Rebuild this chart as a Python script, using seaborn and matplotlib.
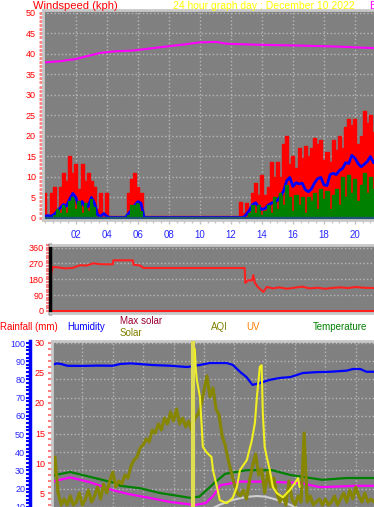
import numpy as np
import matplotlib
matplotlib.use("Agg")
import matplotlib.pyplot as plt
import seaborn as sns
from matplotlib.ticker import MultipleLocator, FixedLocator

# ---------------- data ----------------
wind_hours = np.round(np.arange(0, 21.21, 0.2), 1)
gust = [6, 0.5, 6, 7.5, 2, 7.5, 11, 9, 15, 11,
        13, 7, 13, 9, 11, 9, 7.5, 2, 6, 0.5,
        6, 0.3, 0.3, 0.3, 0.3, 0.3, 0.3, 6, 9.5, 11,
        7.5, 6, 0.3, 0.3, 0.3, 0.3, 0.3, 0.3, 0.3, 0.3,
        0.3, 0.3, 0.3, 0.3, 0.3, 0.3, 0.3, 0.3, 0.3, 0.3,
        0.3, 0.3, 0.3, 0.3, 0.3, 0.3, 0.3, 0.3, 0.3, 0.3,
        0.3, 0.3, 0.3, 3.7, 1, 3.5, 2, 6, 8.5, 5.5,
        10.5, 5.5, 7.5, 13.5, 10, 13.5, 10, 18, 20, 13,
        15, 12, 17, 14.5, 17.5, 15, 17, 19.5, 18, 19,
        14, 16, 13.5, 19, 16.5, 20, 17, 22, 24, 22.5,
        24, 18, 20, 26, 23, 25, 21]
avg_speed = [0.3, 0.5, 0.3, 0.8, 1.5, 2.4, 3.2, 2.8, 4.5, 5.9,
             4.9, 2.5, 3.9, 2.7, 2.7, 4.9, 3.5, 0.7, 0.3, 1.0,
             0.3, 0, 0, 0, 0, 0, 0, 1.0, 1.8, 3.0,
             3.9, 3.5, 0, 0, 0, 0, 0, 0, 0, 0,
             0, 0, 0, 0, 0, 0, 0, 0, 0, 0,
             0, 0, 0, 0, 0, 0, 0, 0, 0, 0,
             0, 0, 0, 0, 0, 0.8, 1.8, 3.2, 3.6, 2.5,
             2.0, 2.2, 3.0, 3.5, 3.8, 4.2, 5.2, 6.5, 9.0, 9.8,
             7.6, 8.5, 8.2, 8.4, 6.8, 6.3, 7.0, 8.5, 9.5, 9.8,
             8.0, 7.8, 10.5, 10.8, 10.5, 11.5, 12.0, 13.4, 13.2, 15.2,
             14.5, 13.2, 12.4, 13.0, 13.7, 14.9, 13.4]
speed = [0, 0, 0, 0.5, 2, 1, 3, 1, 4, 5,
         2, 4, 1, 3.5, 1.5, 4.5, 2.5, 0, 0, 0,
         0, 0, 0, 0, 0, 0, 0, 0.5, 3, 3,
         3.5, 1.5, 0, 0, 0, 0, 0, 0, 0, 0,
         0, 0, 0, 0, 0, 0, 0, 0, 0, 0,
         0, 0, 0, 0, 0, 0, 0, 0, 0, 0,
         0, 0, 0, 0, 0, 0, 1, 3, 1, 3,
         0.5, 1.5, 3, 1, 5, 2, 6, 3, 8, 5,
         1.5, 5.5, 3, 5, 1, 5, 4, 6, 2, 7,
         4.5, 6.5, 2, 5.5, 7, 3, 10, 5, 10.5, 6,
         9.5, 4, 8, 11, 6, 10, 7]

baro_hours = [0, 1.0, 1.95, 2.8, 3.56, 4.5, 5.7, 6.8, 7.9, 9.0, 10.0, 11.1,
              11.6, 12.1, 13.0, 13.9, 15.2, 16.5, 17.5, 18.6, 19.9, 21.2]
baro = [37.9, 38.2, 38.7, 39.5, 40.2, 40.6, 40.8, 41.3, 41.8, 42.3, 42.8, 42.9,
        42.5, 42.4, 42.3, 42.2, 42.1, 42.0, 41.9, 41.8, 41.6, 41.4]

dir_hours = [0.05, 0.18, 0.5, 1.0, 1.5, 1.96, 2.4, 2.83, 3.27, 3.93,
             4.12, 4.14, 5.42, 5.46, 5.9, 6.1, 12.74, 12.78, 12.96, 13.22,
             13.3, 13.4, 13.6, 13.96, 14.18, 14.6, 15.0, 15.5, 16.0, 16.5,
             17.0, 17.5, 18.0, 18.5, 19.0, 19.5, 20.0, 20.5, 21.2]
direction = [203, 250, 248, 242, 245, 260, 258, 271, 266, 265,
             266, 288, 288, 263, 258, 244, 244, 159, 174, 174,
             203, 160, 136, 108, 136, 128, 134, 126, 132, 138,
             128, 132, 126, 131, 134, 130, 136, 132, 130]

hum_hours = [0.0, 0.3, 0.6, 1.0, 2.0, 3.0, 4.0, 4.5, 5.2, 6.0, 6.6, 7.8, 8.9, 9.7,
             10.4, 11.5, 11.9, 12.4, 12.8, 13.2, 13.7, 14.3, 15.0, 15.7, 16.5,
             17.4, 18.3, 19.4, 19.8, 20.3, 20.7, 21.2]
humidity = [88.0, 88.8, 88.5, 87.5, 87.4, 87.6, 87.5, 88.5, 88.8, 88.3, 87.9, 87.5, 86.8, 87.9,
            89.0, 89.0, 88.0, 84.0, 81.3, 77.0, 78.0, 79.7, 80.8, 81.3, 83.5,
            84.0, 84.2, 84.8, 85.7, 85.7, 84.2, 84.2]

temp_hours = [0.0, 0.2, 1.2, 2.5, 4.1, 4.5, 5.8, 7.1, 9.1, 9.7, 10.7, 11.4,
              12.8, 14.5, 15.7, 17.8, 19.4, 21.2]
temperature = [7.8, 8.0, 8.5, 7.7, 6.7, 6.2, 5.8, 5.0, 4.2, 4.4, 6.7, 8.2,
               8.8, 8.8, 8.0, 7.2, 7.5, 7.5]

feels_hours = [0.0, 0.2, 1.2, 2.5, 4.1, 5.1, 6.4, 7.8, 9.4, 10.1, 10.6, 11.1,
               12.4, 13.7, 16.3, 17.6, 18.0, 19.9, 21.2]
feels = [6.8, 7.0, 7.6, 6.8, 5.4, 4.8, 4.2, 3.5, 3.0, 3.3, 4.5, 6.3,
         6.9, 6.9, 6.7, 6.0, 6.0, 6.2, 6.2]

solar_hours = np.round(np.arange(0, 21.21, 0.2), 1)
solar = [7, 11, 5, 3, 4, 3, 4.5, 3, 3.5, 5,
         3, 4, 5.5, 3.5, 4.5, 6, 4, 6.5, 5, 7,
         8.5, 6, 7, 6.5, 8, 7.5, 9.5, 10.5, 11, 12.5,
         13, 14, 13.5, 15.5, 15, 16.5, 15.5, 17.5, 16.5, 18.5,
         17, 19, 16.5, 17.5, 16, 17, 15.5, 17.5, 18, 19.5,
         22, 24.5, 21, 22.5, 19, 18, 14.5, 13, 10.5, 8.5,
         6.5, 5, 4.5, 5.5, 4, 7, 9.5, 11.5, 8, 9,
         5, 8.5, 6, 7.5, 5, 3.5, 4.5, 3, 7, 4,
         3, 4.5, 3.5, 15, 3.5, 4.5, 3, 3.5, 4, 3,
         4, 3, 3.5, 4.5, 3, 4, 5, 3.5, 5.5, 4,
         6, 4.5, 3.5, 5, 3.5, 4, 3.5]

maxsolar_hours = [10.6, 11.0, 11.5, 12.0, 12.5, 13.0, 13.5, 14.0, 14.5, 15.0, 15.5, 16.0, 16.4]
maxsolar = [2.5, 3.0, 3.5, 3.9, 4.2, 4.4, 4.5, 4.4, 4.1, 3.7, 3.2, 2.7, 2.3]

uv_spike_hours = [9.28, 9.28]
uv_spike = [0, 31]
uv_hours = [9.40, 9.47, 9.54, 9.74, 9.87, 9.93, 10.2, 10.5, 10.6, 10.86, 11.05, 11.5,
            11.9, 12.17, 12.37, 12.83, 13.16, 13.36, 13.49, 13.68, 13.8, 13.88,
            14.0, 14.14, 14.34, 14.54, 14.8, 15.2, 15.66, 16.0, 16.2, 16.3]
uv = [29, 25.5, 23.8, 21, 15.5, 12.7, 11.7, 11, 8.8, 6, 3.8, 3.3,
      4.2, 6, 8.8, 10.5, 13.8, 16.7, 21, 26, 26.3, 18.3,
      12.7, 11, 8.8, 6, 5, 4.3, 5.5, 6.7, 7.5, 6]

hour_ticks = [2, 4, 6, 8, 10, 12, 14, 16, 18, 20]
hour_labels = ["02", "04", "06", "08", "10", "12", "14", "16", "18", "20"]

# ---------------- style ----------------
sns.set_theme(style="white")
plt.rcParams["font.family"] = ["Liberation Sans", "DejaVu Sans"]

W, H = 374, 507
fig = plt.figure(figsize=(W / 100, H / 100), dpi=100)
fig.patch.set_facecolor("white")


def fr(x0, y0, x1, y1):
    return [x0 / W, 1 - y1 / H, (x1 - x0) / W, (y1 - y0) / H]


GRAY = "#808080"
GRID = "#b8b8b8"
EDGE = "#c8c8c8"

# ---------------- panel 1: wind ----------------
ax1 = fig.add_axes(fr(43, 10, 374, 220))
ax1.set_facecolor(GRAY)
ax1.grid(True, which="major", color=GRID, ls=":", lw=1)
ax1.set_axisbelow(True)
ax1.fill_between(wind_hours, 0, gust, step="mid", color="#ff0000", lw=0, zorder=2)
sns.lineplot(x=wind_hours, y=gust, color="#ff0000", lw=1.0, drawstyle="steps-mid",
             estimator=None, ax=ax1)
ax1.fill_between(wind_hours, 0, speed, step="mid", color="#008000", lw=0, zorder=2.2)
sns.lineplot(x=wind_hours, y=speed, color="#008000", lw=1.0, drawstyle="steps-mid",
             estimator=None, ax=ax1)
ax1.axhline(0, color="#1f5570", lw=2.5, zorder=2.5)
sns.lineplot(x=wind_hours, y=avg_speed, color="#0000ff", lw=2, estimator=None, ax=ax1)
sns.lineplot(x=baro_hours, y=baro, color="#ff00ff", lw=1.5, estimator=None, ax=ax1)
ax1.set_xlim(-0.12, 21.23)
ax1.set_ylim(-0.6, 50.7)
ax1.xaxis.set_major_locator(FixedLocator(hour_ticks))
ax1.set_xticklabels(hour_labels)
ax1.xaxis.set_minor_locator(MultipleLocator(0.5))
ax1.yaxis.set_major_locator(MultipleLocator(5))
ax1.yaxis.set_minor_locator(MultipleLocator(1))
ax1.tick_params(axis="y", which="both", left=True, colors="#ff8080", labelcolor="#ff0000",
                length=3, width=2, pad=2, labelsize=6.5, direction="out")
ax1.tick_params(axis="x", which="major", bottom=True, colors="#c0c0c0", labelcolor="#2828ff",
                length=3, width=1, pad=4, labelsize=7, direction="out")
ax1.tick_params(axis="x", which="minor", bottom=True, colors="#c0c0c0", length=2, width=1)
ax1.set_xlabel("")
ax1.set_ylabel("")
for s in ["left", "bottom", "top"]:
    ax1.spines[s].set_color(EDGE)
    ax1.spines[s].set_linewidth(2)
ax1.spines["right"].set_visible(False)

fig.text(33 / W, 1 - 6 / H, "Windspeed (kph)", color="#ff0000", fontsize=8, va="center", ha="left")
fig.text(173 / W, 1 - 6 / H, "24 hour graph day : December 10 2022", color="#ffff00",
         fontsize=7.5, va="center", ha="left")
fig.text(369 / W, 1 - 6 / H, "Barometer", color="#ff00ff", fontsize=8, va="center", ha="left")

# ---------------- panel 2: direction ----------------
ax2 = fig.add_axes(fr(50, 245, 374, 313))
ax2.set_facecolor(GRAY)
ax2.grid(True, axis="y", which="major", color=GRID, ls=":", lw=1)
ax2.set_axisbelow(True)
ax2.axhline(0, color="#ff2020", lw=1.5)
sns.lineplot(x=dir_hours, y=direction, color="#ff2020", lw=1.5, estimator=None, ax=ax2)
ax2.set_xlim(0, 21.2)
ax2.set_ylim(-12, 375)
ax2.yaxis.set_major_locator(FixedLocator([0, 90, 180, 270, 360]))
ax2.yaxis.set_minor_locator(MultipleLocator(15))
ax2.set_xticks([])
ax2.tick_params(axis="y", which="both", left=True, colors="#ff8080", labelcolor="#ff0000",
                length=3, width=1.5, pad=1.5, labelsize=6.5, direction="out")
ax2.set_xlabel("")
ax2.set_ylabel("")
ax2.spines["left"].set_color("black")
ax2.spines["left"].set_linewidth(2.5)
for s in ["bottom", "top"]:
    ax2.spines[s].set_color(EDGE)
    ax2.spines[s].set_linewidth(2)
ax2.spines["right"].set_visible(False)

# ---------------- panel 3: humidity / temperature / solar ----------------
ax3 = fig.add_axes(fr(52, 341, 374, 507))
ax3.set_facecolor(GRAY)
ax3.grid(True, which="major", color=GRID, ls=":", lw=1)
ax3.set_axisbelow(True)
sns.lineplot(x=hum_hours, y=humidity, color="#0000ff", lw=1.6, estimator=None, ax=ax3)
ax3.set_xlim(0, 21.2)
ax3.set_ylim(9.9, 101.1)
ax3.xaxis.set_major_locator(MultipleLocator(2))
ax3.tick_params(axis="x", which="both", bottom=False, labelbottom=False, length=0)
ax3.yaxis.set_major_locator(MultipleLocator(10))
ax3.yaxis.set_minor_locator(MultipleLocator(2))
ax3.spines["left"].set_position(("outward", 22 * 0.72))
ax3.spines["left"].set_color("#0000ff")
ax3.spines["left"].set_linewidth(2.5)
ax3.spines["top"].set_color(EDGE)
ax3.spines["top"].set_linewidth(2)
ax3.spines["right"].set_visible(False)
ax3.spines["bottom"].set_visible(False)
ax3.set_xlabel("")
ax3.set_ylabel("")

ax3t = ax3.twinx()
sns.lineplot(x=temp_hours, y=temperature, color="#008000", lw=1.6, estimator=None, ax=ax3t)
sns.lineplot(x=feels_hours, y=feels, color="#ff00ff", lw=1.6, estimator=None, ax=ax3t)
sns.lineplot(x=maxsolar_hours, y=maxsolar, color="#d0d0d0", lw=1.5, estimator=None, ax=ax3t)
sns.lineplot(x=solar_hours, y=solar, color="#868600", lw=2.2, estimator=None, ax=ax3t)
sns.lineplot(x=uv_spike_hours, y=uv_spike, color="#dede50", lw=3, estimator=None, sort=False, ax=ax3t)
sns.lineplot(x=uv_hours, y=uv, color="#f0f020", lw=1.5, estimator=None, ax=ax3t)
ax3t.set_xlim(0, 21.2)
ax3t.set_ylim(2.67, 30.33)
ax3t.yaxis.tick_left()
ax3t.yaxis.set_major_locator(MultipleLocator(5))
ax3t.yaxis.set_minor_locator(MultipleLocator(1))
ax3t.tick_params(axis="y", which="both", left=True, right=False, labelleft=True, labelright=False,
                 colors="#ff8080", labelcolor="#ff0000", length=3, width=1.5, pad=2,
                 labelsize=6.5, direction="out")
ax3t.spines["left"].set_color(EDGE)
ax3t.spines["left"].set_linewidth(2)
for s in ["right", "bottom", "top"]:
    ax3t.spines[s].set_visible(False)
ax3t.set_xlabel("")
ax3t.set_ylabel("")
ax3.tick_params(axis="y", which="both", left=True, colors="#0000ff", labelcolor="#2828ff",
                length=3, width=1.5, pad=0.5, labelsize=6.5, direction="out")

# legend row
fs = 7
fig.text(0 / W, 1 - 327 / H, "Rainfall (mm)", color="#ff0000", fontsize=fs, va="center", ha="left")
fig.text(67 / W, 1 - 327 / H, "Humidity", color="#0000ff", fontsize=fs, va="center", ha="left")
fig.text(120 / W, 1 - 321 / H, "Max solar", color="#990033", fontsize=fs, va="center", ha="left")
fig.text(120 / W, 1 - 333 / H, "Solar", color="#808000", fontsize=fs, va="center", ha="left")
fig.text(211 / W, 1 - 327 / H, "AQI", color="#808000", fontsize=fs, va="center", ha="left")
fig.text(246 / W, 1 - 327 / H, "UV", color="#ff8000", fontsize=fs, va="center", ha="left")
fig.text(313 / W, 1 - 327 / H, "Temperature", color="#008000", fontsize=fs, va="center", ha="left")

fig.savefig("out.png", dpi=100, facecolor="white")
